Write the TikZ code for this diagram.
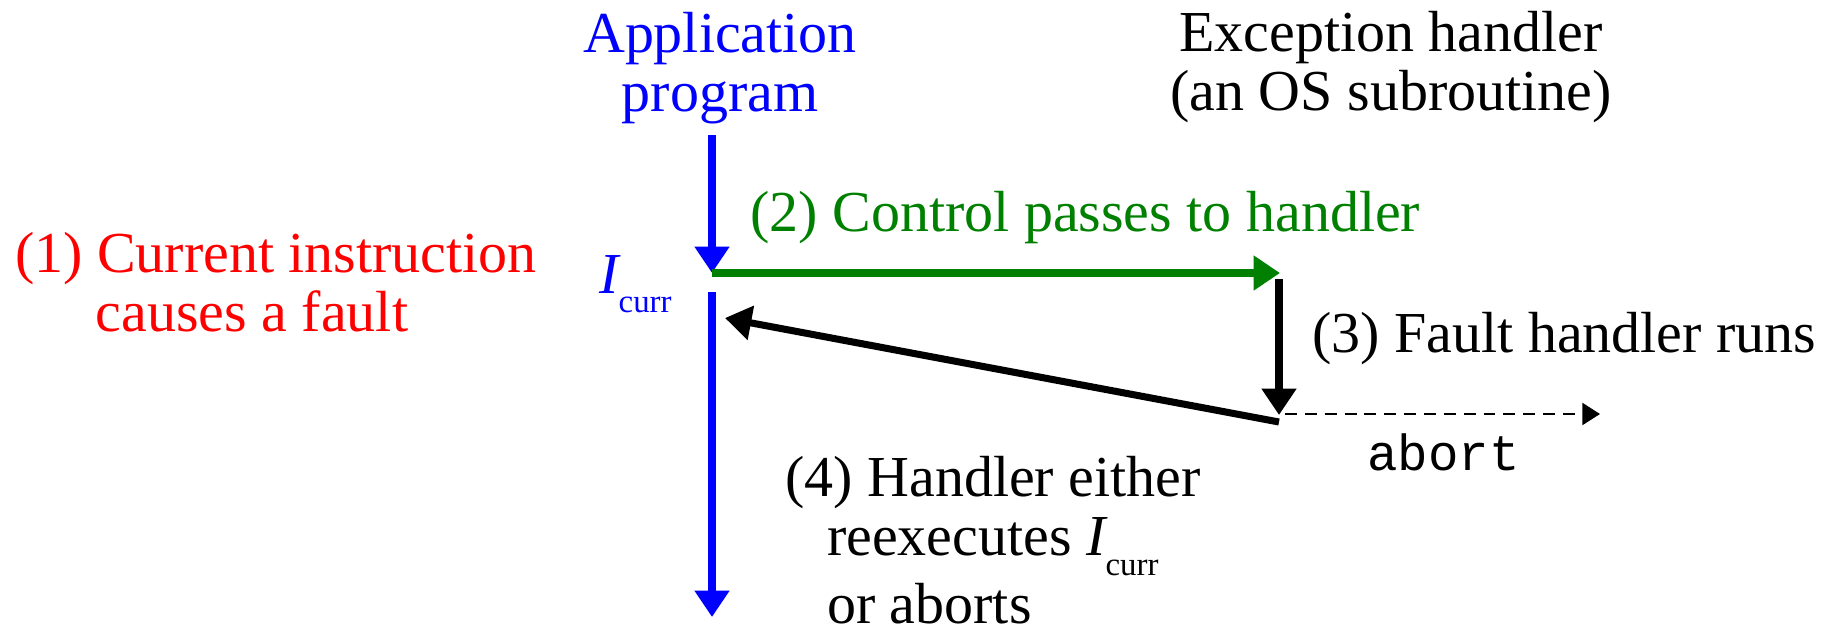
\documentclass[tikz,border=0pt]{standalone}
\usepackage{fontspec}
\setmainfont{Liberation Serif}
\setmonofont{Liberation Mono}
\usetikzlibrary{arrows.meta, positioning}
\definecolor{ctrlgreen}{RGB}{0,128,0}
\newdimen\pxu \pxu=0.5669pt
\newcommand{\icurr}{{\itshape I}\raisebox{-20\pxu}[0pt][0pt]{\fontsize{18.7}{20}\selectfont curr}}

\begin{document}
\begin{tikzpicture}[x=0.02cm,y=-0.02cm,
  every node/.style={inner sep=0pt,font=\fontsize{33}{33.5}\selectfont},
  flow/.style={line width=4pt,-{Triangle[length=15pt,width=19pt]}},
  abortline/.style={line width=1.1pt,dash pattern=on 6.8pt off 4.5pt,-{Triangle[length=10pt,width=12.5pt]}}]
\useasboundingbox (0,0) rectangle (1837,637);

% texts (base of a multi-line node = its last line)
\node[blue,align=center,anchor=base] (app) at (720,111) {Application\\program};
\node[align=center,anchor=base] (exc) at (1391,110) {Exception handler\\(an OS subroutine)};
\node[red,align=center,anchor=base] (fault) at (276,331) {(1) Current instruction\\causes a fault\hspace*{0.83em}};
\node[ctrlgreen,anchor=base west] (pass) at (750,231) {(2) Control passes to handler};
\node[anchor=base west] (runs) at (1312,352) {(3) Fault handler runs};
\node[anchor=base west,font=\ttfamily\fontsize{28.9}{30}\selectfont] (abort) at (1367,470) {abort};
\node[blue,anchor=base west] (cur) at (599,293) {\icurr};
\node[align=left,anchor=base west] (either) at (785,623) {(4) Handler either\\\hspace*{42\pxu}reexecutes \icurr\\[9\pxu]\hspace*{42\pxu}or aborts};

% arrow ends
\coordinate (apptop) at (712,135);
\coordinate (fault pt) at (712,273);
\coordinate (hdl top) at (1280,273);
\coordinate (hdl run) at (1279,279);
\coordinate (hdl end) at (1279,415);
\coordinate (ret from) at (1279,422);
\coordinate (ret to) at (725,318);
\coordinate (resume) at (712,292);
\coordinate (app end) at (712,617);
\coordinate (abort from) at (1285,414);
\coordinate (abort to) at (1600,414);

\draw[flow,blue] (apptop) -- (fault pt);
\draw[flow,ctrlgreen] (fault pt) -- (hdl top);
\draw[flow] (hdl run) -- (hdl end);
\draw[flow] (ret from) -- (ret to);
\draw[flow,blue] (resume) -- (app end);
\draw[abortline] (abort from) -- (abort to);
\end{tikzpicture}
\end{document}
